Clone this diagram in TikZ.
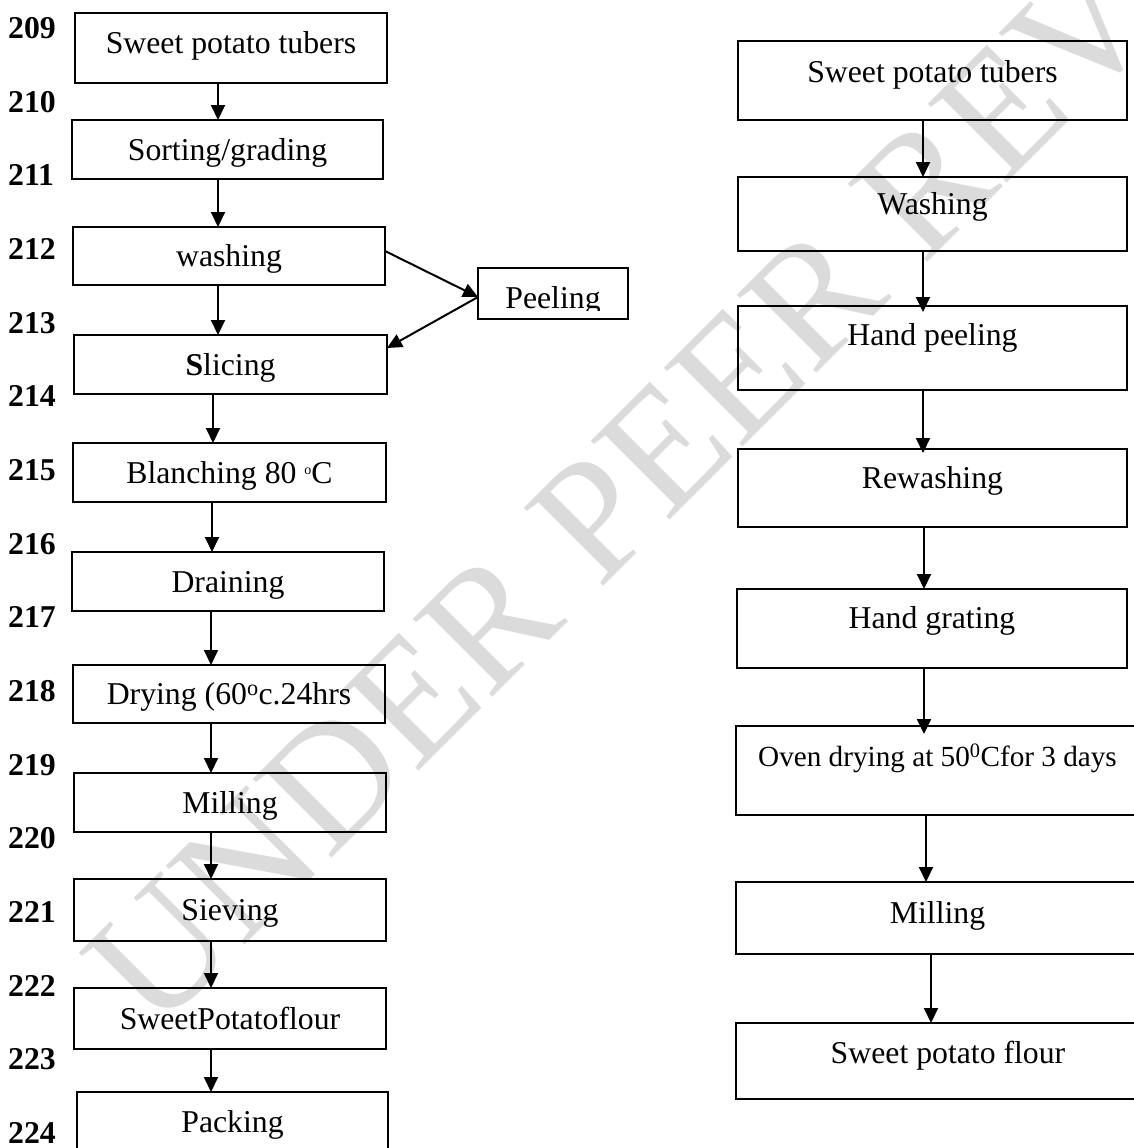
\documentclass[tikz,border=0pt]{standalone}
\usepackage{fontspec}
\setmainfont{Liberation Serif}
\usetikzlibrary{arrows.meta}

\tikzset{
  bx/.style n args={2}{draw, line width=1.8pt, minimum width=#1, minimum height=#2,
    inner sep=0pt, outer sep=0pt, text height=21pt, text depth=0pt},
  raisetxt/.style={text depth=#1},
  arr/.style={-{Triangle[length=15pt,width=14pt]}, line width=2pt},
  lab/.style={anchor=west, inner sep=0pt, font=\fontsize{31.75}{38}\selectfont\bfseries},
  wm/.style={rotate=45, anchor=base west, inner sep=0pt, text=black!14,
    font=\fontsize{170}{172}\selectfont}
}

\begin{document}
\begin{tikzpicture}[x=1pt,y=-1pt,font=\fontsize{31.75}{38}\selectfont]
\useasboundingbox (0,0) rectangle (1134,1148);
% watermark
\node[wm] (wmark) at (155,1035) {UNDER PEER REVIEW};
% line numbers
\foreach \k in {0,...,15}{
  \pgfmathtruncatemacro\num{209+\k}
  \node[lab] (n\num) at (8,28+73.67*\k) {\num};
}
% left chart
\node[bx={312}{70},raisetxt=10pt] (l1) at (231,48) {Sweet potato tubers};
\node[bx={311}{59}] (l2) at (227.5,149.5) {Sorting/grading};
\node[bx={312}{58}] (l3) at (229,256) {washing};
\node[bx={313}{59}] (l4) at (230.5,364.5) {\textbf{S}licing};
\node[bx={313}{59}] (l5) at (229.5,472.5) {Blanching 80 \raisebox{0.55ex}{\fontsize{14}{14}\selectfont o}C};
\node[bx={312}{59}] (l6) at (228,581.5) {Draining};
\node[bx={312}{58}] (l7) at (229,694) {Drying (60\textsuperscript{o}c.24hrs};
\node[bx={312}{59}] (l8) at (230,802.5) {Milling};
\node[bx={312}{62}] (l9) at (230,910) {Sieving};
\node[bx={312}{61}] (l10) at (230,1018.5) {SweetPotatoflour};
\node[bx={311}{68},raisetxt=8pt] (l11) at (232.5,1126) {Packing};
% side step
\node[bx={150}{51}] (peel) at (553,293.5) {};
\begin{scope}
\clip (peel.north west) rectangle (peel.east |- 0,310);
\node[inner sep=0pt, text height=30pt, text depth=0pt] (peeltxt) at (peel) {Peeling};
\end{scope}
\draw[arr] ([yshift=5pt]l3.east) -- ([yshift=-3.5pt]peel.west);
\draw[arr] ([yshift=-3.5pt]peel.west) -- ([yshift=16.5pt]l4.east);
% right chart
\node[bx={389}{79},raisetxt=17pt] (r1) at (932.5,80.5) {Sweet potato tubers};
\node[bx={389}{74},raisetxt=20pt] (r2) at (932.5,214) {Washing};
\node[bx={389}{84},raisetxt=26pt] (r3) at (932.5,348) {Hand peeling};
\node[bx={389}{78},raisetxt=20pt] (r4) at (932.5,488) {Rewashing};
\node[bx={390}{79},raisetxt=21pt] (r5) at (932,628.5) {Hand grating};
\node[bx={403}{89},raisetxt=29pt,font=\fontsize{29.2}{35}\selectfont] (r6) at (937.5,770.5) {Oven drying at 50\textsuperscript{0}Cfor 3 days};
\node[bx={403}{72},raisetxt=11pt] (r7) at (937.5,918) {Milling};
\node[bx={424}{76},raisetxt=16pt] (r8) at (948,1061) {Sweet potato flour};
% arrows
\foreach \a/\b/\s/\e in {l1/l2/-13/0, l2/l3/-9.5/0, l3/l4/-11/0, l4/l5/-17.5/0,
  l5/l6/-17.5/0, l6/l7/-17/0, l7/l8/-18/0, l8/l9/-19/0, l9/l10/-19/0, l10/l11/-19/0,
  r1/r2/-9.5/0, r2/r3/-9.5/-6, r3/r4/-9.5/-4, r4/r5/-8.5/0, r5/r6/-8/-8,
  r6/r7/-11.5/0, r7/r8/-6.5/0}
  \draw[arr, shorten >=\e pt] ([xshift=\s pt]\a.south) -- ([xshift=\s pt]\a.south |- \b.north);
\end{tikzpicture}
\end{document}
